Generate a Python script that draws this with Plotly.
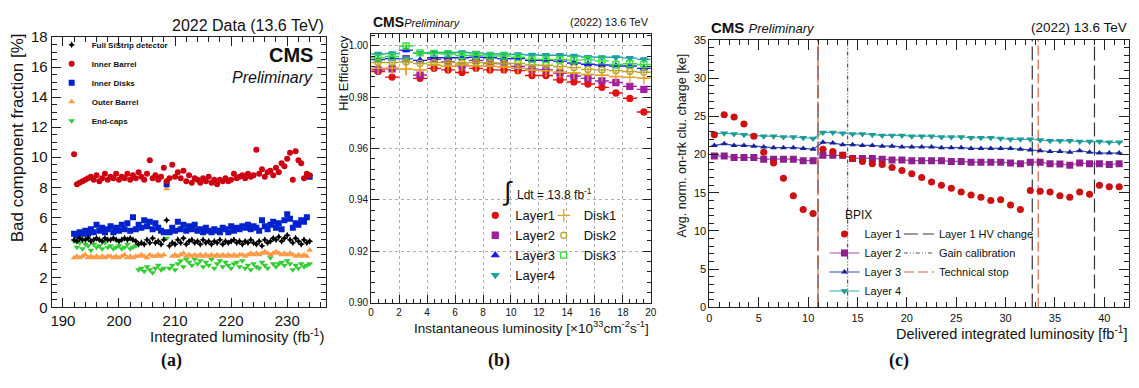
import plotly.graph_objects as go

# ---------------- Panel (a): bad component fraction ----------------
lumi_a = [
    192.0, 192.5, 193.0, 193.5, 194.0, 194.5, 195.0, 195.5, 196.0, 196.5,
    197.0, 197.5, 198.0, 198.5, 199.0, 199.5, 200.0, 200.5, 201.0, 201.5,
    202.0, 202.5, 203.0, 203.5, 204.0, 204.5, 205.0, 205.5, 206.0, 206.5,
    207.0, 207.5, 208.0, 208.5, 209.0, 209.5, 210.0, 210.5, 211.0, 211.5,
    212.0, 212.5, 213.0, 213.5, 214.0, 214.5, 215.0, 215.5, 216.0, 216.5,
    217.0, 217.5, 218.0, 218.5, 219.0, 219.5, 220.0, 220.5, 221.0, 221.5,
    222.0, 222.5, 223.0, 223.5, 224.0, 224.5, 225.0, 225.5, 226.0, 226.5,
    227.0, 227.5, 228.0, 228.5, 229.0, 229.5, 230.0, 230.5, 231.0, 231.5,
    232.0, 232.5, 233.0, 233.5, 234.0,
]
full_sistrip = [
    4.5, 4.4, 4.6, 4.5, 4.5, 4.6, 4.4, 4.5, 4.6, 4.5,
    4.4, 4.6, 4.5, 4.5, 4.6, 4.5, 4.4, 4.5, 4.6, 4.5,
    4.6, 4.5, 4.4, 4.2, 4.3, 4.2, 4.5, 4.3, 4.6, 4.3,
    4.4, 4.2, 4.5, 5.8, 4.1, 4.3, 4.2, 4.5, 4.3, 4.6,
    4.2, 4.4, 4.5, 4.3, 4.4, 4.2, 4.5, 4.3, 4.4, 4.2,
    4.4, 4.3, 4.5, 4.2, 4.4, 4.3, 4.4, 4.5, 4.3, 4.4,
    4.2, 4.4, 4.3, 4.5, 4.3, 4.2, 4.4, 4.1, 4.5, 4.3,
    4.4, 4.6, 4.5, 4.7, 4.4, 4.6, 4.8, 4.5, 4.3, 4.6,
    4.4, 4.2, 4.5, 4.3, 4.4,
]
inner_barrel = [
    10.2, 8.2, 8.3, 8.4, 8.5, 8.6, 8.7, 8.5, 8.8, 8.4,
    8.6, 8.9, 8.5, 8.7, 8.6, 8.9, 8.5, 8.7, 8.6, 8.9,
    8.5, 8.8, 8.6, 9.0, 8.7, 8.5, 8.9, 9.8, 8.6, 8.8,
    8.5, 8.7, 9.3, 8.4, 8.6, 9.5, 8.7, 9.0, 8.6, 9.1,
    8.4, 8.8, 8.3, 8.6, 8.5, 8.3, 8.6, 8.4, 8.7, 8.3,
    8.5, 8.2, 8.5, 8.4, 8.6, 8.4, 8.5, 8.9, 8.6, 8.7,
    8.8, 8.6, 8.9, 8.7, 8.8, 10.5, 8.9, 9.2, 8.7, 9.0,
    9.1, 8.8, 9.3, 9.0, 9.6, 9.4, 9.9, 10.3, 8.5, 10.4,
    9.8, 9.6, 8.6, 8.9, 8.8,
]
inner_disks = [
    4.9, 4.8, 5.0, 4.9, 5.1, 4.9, 5.2, 5.0, 5.5, 5.1,
    5.3, 5.0, 5.2, 5.4, 5.0, 5.3, 5.1, 5.5, 5.2, 5.6,
    5.1, 6.0, 5.2, 5.5, 5.3, 5.8, 5.4, 5.7, 5.2, 5.6,
    5.3, 5.1, 5.0, 8.2, 5.0, 5.3, 5.1, 5.7, 5.2, 5.5,
    5.1, 5.4, 5.2, 5.5, 5.1, 5.2, 5.0, 5.3, 5.1, 5.0,
    5.2, 5.1, 5.0, 5.3, 5.2, 5.0, 5.4, 5.1, 5.3, 5.2,
    5.4, 5.3, 5.5, 5.2, 5.4, 5.3, 5.1, 5.8, 5.4, 5.2,
    5.5, 5.7, 5.3, 5.6, 5.2, 5.8, 6.2, 5.9, 5.3, 5.6,
    5.5, 5.8, 5.7, 6.0, 8.7,
]
outer_barrel = [
    3.3, 3.4, 3.3, 3.4, 3.5, 3.3, 3.4, 3.3, 3.4, 3.3,
    3.4, 3.3, 3.4, 3.4, 3.3, 3.4, 3.3, 3.4, 3.5, 3.3,
    3.4, 3.3, 3.4, 3.4, 3.5, 3.4, 3.3, 3.5, 3.4, 3.4,
    3.5, 3.4, 3.5, 7.9, 5.0, 3.4, 3.5, 3.4, 3.5, 3.6,
    3.4, 3.5, 3.4, 3.5, 3.4, 3.5, 3.4, 3.5, 3.4, 3.5,
    3.4, 3.5, 3.4, 3.5, 3.4, 3.5, 3.4, 3.5, 3.4, 3.5,
    3.5, 3.4, 3.5, 3.6, 3.5, 3.6, 3.5, 3.6, 3.7, 3.6,
    3.5, 3.6, 3.7, 3.6, 3.5, 3.6, 3.5, 3.6, 3.5, 3.4,
    3.5, 3.4, 3.5, 3.4, 3.8,
]
end_caps = [
    4.4, 4.0, 4.3, 3.9, 4.2, 4.1, 3.8, 4.2, 4.0, 4.1,
    3.9, 4.3, 4.0, 4.1, 3.9, 4.0, 4.1, 3.9, 4.0, 4.2,
    3.9, 4.0, 4.1, 2.5, 2.6, 2.4, 2.7, 2.5, 2.3, 2.6,
    2.8, 2.5, 2.6, 4.6, 2.6, 2.8, 2.5, 2.9, 3.1, 2.7,
    3.2, 3.0, 2.8, 3.2, 2.9, 3.1, 2.7, 3.0, 2.8, 3.2,
    2.6, 2.9, 3.1, 2.7, 3.0, 2.8, 2.6, 2.9, 3.0, 2.7,
    3.1, 2.6, 2.8, 2.5, 2.9, 2.7, 2.6, 3.0, 2.8, 2.6,
    3.3, 2.9, 2.7, 2.9, 3.0, 2.8, 3.1, 2.9, 2.5, 2.8,
    2.6, 2.9, 2.7, 2.8, 2.9,
]

# ---------------- Panel (b): hit efficiency ----------------
inst_lumi = [0.5, 1.5, 2.5, 3.5, 4.5, 5.5, 6.5, 7.5, 8.5, 9.5,
             10.5, 11.5, 12.5, 13.5, 14.5, 15.5, 16.5, 17.5, 18.5, 19.5]
eff_layer1 = [0.9900, 0.9878, None, 0.9873, 0.9912, 0.9906, 0.9896, 0.9912, 0.9906, 0.9906,
              0.9903, 0.9884, 0.9884, 0.9867, 0.9859, 0.9851, 0.9838, 0.9816, 0.9795, 0.9742]
eff_layer2 = [0.9906, 0.9910, 0.9950, 0.9886, 0.9947, 0.9937, 0.9922, 0.9943, 0.9931, 0.9931,
              0.9919, 0.9909, 0.9906, 0.9894, 0.9882, 0.9873, 0.9863, 0.9857, 0.9842, 0.9830]
eff_layer3 = [0.9946, 0.9950, 0.9983, 0.9943, 0.9953, 0.9953, 0.9953, 0.9955, 0.9953, 0.9950,
              0.9950, 0.9943, 0.9943, 0.9940, 0.9933, 0.9928, 0.9925, 0.9921, 0.9921, 0.9912]
eff_layer4 = [0.9968, 0.9970, 0.9950, 0.9972, 0.9974, 0.9974, 0.9974, 0.9972, 0.9968, 0.9968,
              0.9966, 0.9964, 0.9963, 0.9963, 0.9960, 0.9956, 0.9955, 0.9955, 0.9952, 0.9947]
eff_disk1 = [0.9912, 0.9913, 0.9909, 0.9906, 0.9925, 0.9920, 0.9925, 0.9922, 0.9920, 0.9917,
             0.9912, 0.9905, 0.9903, 0.9897, 0.9894, 0.9888, 0.9885, 0.9880, 0.9877, 0.9874]
eff_disk2 = [0.9935, 0.9935, 0.9937, 0.9931, 0.9935, 0.9935, 0.9933, 0.9935, 0.9933, 0.9931,
             0.9931, 0.9925, 0.9924, 0.9919, 0.9915, 0.9908, 0.9906, 0.9903, 0.9900, 0.9897]
eff_disk3 = [0.9953, 0.9958, 0.9999, 0.9972, 0.9970, 0.9968, 0.9962, 0.9963, 0.9960, 0.9960,
             0.9955, 0.9947, 0.9947, 0.9946, 0.9944, 0.9945, 0.9941, 0.9927, 0.9930, 0.9927]
eff_err = [0.0003, 0.0003, 0.0008, 0.0004, 0.0002, 0.0002, 0.0002, 0.0002, 0.0002, 0.0002,
           0.0002, 0.0002, 0.0002, 0.0002, 0.0002, 0.0002, 0.0002, 0.0002, 0.0003, 0.0003]
eff_err_disk1 = [0.0003, 0.0003, 0.0022, 0.0015, 0.0003, 0.0003, 0.0002, 0.0002, 0.0002, 0.0002,
                 0.0002, 0.0002, 0.0002, 0.0002, 0.0002, 0.0002, 0.0002, 0.0002, 0.0003, 0.0003]
bin_half_width = 0.5

# ---------------- Panel (c): cluster charge ----------------
deliv_lumi = [0.5, 1.5, 2.5, 3.5, 4.5, 5.5, 6.5, 7.5, 8.5, 9.5,
              10.5, 11.5, 12.5, 13.5, 14.5, 15.5, 16.5, 17.5, 18.5, 19.5,
              20.5, 21.5, 22.5, 23.5, 24.5, 25.5, 26.5, 27.5, 28.5, 29.5,
              30.5, 31.5, 32.5, 33.5, 34.5, 35.5, 36.5, 37.5, 38.5, 39.5,
              40.5, 41.5]
charge_layer1 = [22.6, 25.2, 24.9, 24.0, 22.4, 20.3, 18.9, 16.9, 14.6, 12.8,
                 12.3, 20.7, 20.4, 19.9, 19.5, 19.1, 18.8, 18.7, 18.3, 17.9,
                 17.5, 17.0, 16.4, 16.0, 15.6, 15.1, 14.7, 14.4, 14.0, 14.1,
                 13.4, 12.8, 15.3, 15.2, 15.1, 14.6, 14.4, 15.1, 14.8, 16.0,
                 15.8, 15.8]
charge_layer2 = [19.8, 19.8, 19.6, 19.6, 19.6, 19.4, 19.4, 19.4, 19.4, 19.2,
                 19.2, 19.9, 19.9, 19.9, 19.5, 19.5, 19.5, 19.4, 19.3, 19.3,
                 19.2, 19.2, 19.2, 19.2, 19.1, 19.1, 19.0, 19.0, 19.0, 19.0,
                 18.9, 18.8, 19.0, 19.0, 18.8, 18.75, 18.6, 18.9, 18.8, 18.8,
                 18.7, 18.8]
charge_layer3 = [21.2, 21.4, 21.2, 21.2, 21.1, 21.0, 20.9, 20.9, 20.9, 20.8,
                 20.7, 21.6, 21.5, 21.3, 21.3, 21.2, 21.2, 21.1, 21.1, 21.0,
                 21.0, 21.0, 21.0, 20.9, 20.9, 20.9, 20.8, 20.8, 20.8, 20.8,
                 20.8, 20.7, 20.6, 20.5, 20.4, 20.4, 20.3, 20.5, 20.3, 20.2,
                 20.2, 20.2]
charge_layer4 = [22.7, 22.8, 22.7, 22.6, 22.5, 22.4, 22.4, 22.3, 22.3, 22.2,
                 22.1, 22.9, 22.9, 22.8, 22.7, 22.7, 22.6, 22.5, 22.5, 22.5,
                 22.4, 22.4, 22.4, 22.3, 22.3, 22.3, 22.2, 22.2, 22.2, 22.1,
                 22.0, 22.0, 22.0, 21.9, 21.8, 21.8, 21.8, 21.7, 21.7, 21.7,
                 21.6, 21.6]
charge_xerr = 0.35
hv_change_x = [11.0, 32.7, 39.0]
gain_calib_x = [14.0]
tech_stop_x = [11.0, 33.3]
charge_range = [0, 35]

FONT = "Liberation Sans, Arial, sans-serif"
SERIF = "Liberation Serif, Times New Roman, serif"
OFF = 8                      # page body margin
W, H = 1139 - OFF, 388 - OFF

fig = go.Figure()

# ---- panel (a) traces (drawing order differs from legend order)
a_series = [
    ("End-caps", end_caps, "#33cc33", "triangle-down", 6, 5),
    ("Outer Barrel", outer_barrel, "#ff9944", "triangle-up", 6, 4),
    ("Inner Disks", inner_disks, "#0022cc", "square", 6, 3),
    ("Full SiStrip detector", full_sistrip, "#000000", "star-diamond", 5, 1),
    ("Inner Barrel", inner_barrel, "#cc0011", "circle", 6, 2),
]
for name, vals, col, sym, size, rank in a_series:
    fig.add_trace(go.Scatter(
        x=lumi_a, y=vals, mode="markers", name=name, legendrank=rank,
        marker=dict(color=col, symbol=sym, size=size, line=dict(width=0)),
        xaxis="x", yaxis="y", legend="legend"))

# ---- panel (b) traces
b_series = [
    ("Layer1", eff_layer1, eff_err, "#e31111", "circle", 6, "legend2"),
    ("Layer2", eff_layer2, eff_err, "#a21fa2", "square", 6, "legend2"),
    ("Layer3", eff_layer3, eff_err, "#1a1aee", "triangle-up", 6, "legend2"),
    ("Layer4", eff_layer4, eff_err, "#1aa3a3", "triangle-down", 6, "legend2"),
    ("Disk1", eff_disk1, eff_err_disk1, "#e6a020", "cross-thin-open", 9, "legend3"),
    ("Disk2", eff_disk2, eff_err, "#b5a62a", "circle-open", 6, "legend3"),
    ("Disk3", eff_disk3, eff_err, "#33dd33", "square-open", 6, "legend3"),
]
for name, vals, err, col, sym, size, leg in b_series:
    fig.add_trace(go.Scatter(
        x=inst_lumi, y=vals, mode="markers", name=name,
        marker=dict(color=col, symbol=sym, size=size, line=dict(width=1.3, color=col)),
        error_x=dict(type="constant", value=bin_half_width, color=col, thickness=1.4, width=0),
        error_y=dict(type="data", array=err, color=col, thickness=1.4, width=0),
        xaxis="x2", yaxis="y2", legend=leg))


# ---- panel (c) vertical marker lines
def vlines(xs):
    xx, yy = [], []
    for v in xs:
        xx += [v, v, None]
        yy += [charge_range[0], charge_range[1], None]
    return xx, yy


for name, xs, col, dash in [
    ("Layer 1 HV change", hv_change_x, "#333333", "14px,5px"),
    ("Gain calibration", gain_calib_x, "#555555", "4px,2px,1px,2px,1px,2px"),
    ("Technical stop", tech_stop_x, "#e0603a", "10px,4px"),
]:
    xx, yy = vlines(xs)
    fig.add_trace(go.Scatter(
        x=xx, y=yy, mode="lines", name=name,
        line=dict(color=col, width=1.2, dash=dash),
        xaxis="x3", yaxis="y3", legend="legend5"))

# ---- panel (c) series
fig.add_trace(go.Scatter(
    x=deliv_lumi, y=charge_layer2, mode="lines+markers", name="Layer 2",
    line=dict(color="#a64da6", width=1.2),
    marker=dict(color="#8e1f8e", symbol="square", size=7),
    error_x=dict(type="constant", value=charge_xerr, color="#a64da6", thickness=1, width=0),
    xaxis="x3", yaxis="y3", legend="legend4", legendrank=2))
fig.add_trace(go.Scatter(
    x=deliv_lumi, y=charge_layer3, mode="lines+markers", name="Layer 3",
    line=dict(color="#3a4aa8", width=1.2),
    marker=dict(color="#14229a", symbol="triangle-up", size=6),
    error_x=dict(type="constant", value=charge_xerr, color="#3a4aa8", thickness=1, width=0),
    xaxis="x3", yaxis="y3", legend="legend4", legendrank=3))
fig.add_trace(go.Scatter(
    x=deliv_lumi, y=charge_layer4, mode="lines+markers", name="Layer 4",
    line=dict(color="#3aacac", width=1.2),
    marker=dict(color="#1f9a9a", symbol="triangle-down", size=7),
    error_x=dict(type="constant", value=charge_xerr, color="#3aacac", thickness=1, width=0),
    xaxis="x3", yaxis="y3", legend="legend4", legendrank=4))
fig.add_trace(go.Scatter(
    x=deliv_lumi, y=charge_layer1, mode="markers", name="Layer 1",
    marker=dict(color="#cc1111", symbol="circle", size=7),
    error_x=dict(type="constant", value=charge_xerr, color="#cc2222", thickness=1.2, width=0),
    xaxis="x3", yaxis="y3", legend="legend4", legendrank=1))


def px_x(p):
    return (p - OFF) / W


def px_y(p):
    return 1 - (p - OFF) / H


axis_common = dict(showline=True, linecolor="#222222", linewidth=1, mirror="allticks",
                   ticks="inside", tickcolor="#222222", zeroline=False, showgrid=False)

fig.update_layout(
    width=W, height=H, margin=dict(l=0, r=0, t=0, b=0),
    paper_bgcolor="white", plot_bgcolor="white",
    font=dict(family=FONT, color="#111111"),
    xaxis=dict(domain=[px_x(49), px_x(326)], range=[188, 237], anchor="y",
               tick0=190, dtick=10, ticklen=9,
               minor=dict(dtick=2, ticklen=5, ticks="inside", tickcolor="#222222"),
               tickfont=dict(size=15), **axis_common),
    yaxis=dict(domain=[px_y(312), px_y(29)], range=[0, 18], anchor="x",
               dtick=2, ticklen=9,
               minor=dict(dtick=0.5, ticklen=5, ticks="inside", tickcolor="#222222"),
               tickfont=dict(size=15), **axis_common),
    xaxis2=dict(domain=[px_x(371), px_x(653)], range=[0, 20], anchor="y2",
                dtick=2, ticklen=8,
                minor=dict(dtick=0.5, ticklen=4, ticks="inside", tickcolor="#222222"),
                tickfont=dict(size=10),
                **{**axis_common, "showgrid": True}, gridcolor="#b0b0b0", griddash="dot"),
    yaxis2=dict(domain=[px_y(307), px_y(26)], range=[0.90, 1.0045], anchor="x2",
                tick0=0.90, dtick=0.02, tickformat=".2f", ticklen=8,
                minor=dict(dtick=0.004, ticklen=4, ticks="inside", tickcolor="#222222"),
                tickfont=dict(size=10),
                **{**axis_common, "showgrid": True}, gridcolor="#b0b0b0", griddash="dot"),
    xaxis3=dict(domain=[px_x(712), px_x(1135)], range=[0, 42.5], anchor="y3",
                dtick=5, ticklen=10,
                minor=dict(dtick=1, ticklen=5, ticks="inside", tickcolor="#222222"),
                tickfont=dict(size=11), **axis_common),
    yaxis3=dict(domain=[px_y(312), px_y(32)], range=charge_range, anchor="x3",
                dtick=5, ticklen=10,
                minor=dict(dtick=1, ticklen=5, ticks="inside", tickcolor="#222222"),
                tickfont=dict(size=11), **axis_common),
    legend=dict(x=px_x(49), y=px_y(22), xanchor="left", yanchor="top",
                bgcolor="rgba(0,0,0,0)", font=dict(size=8, family=FONT, weight="bold"),
                traceorder="normal"),
    legend2=dict(x=px_x(476), y=px_y(200), xanchor="left", yanchor="top",
                 bgcolor="rgba(0,0,0,0)", font=dict(size=13)),
    legend3=dict(x=px_x(545), y=px_y(200), xanchor="left", yanchor="top",
                 bgcolor="rgba(0,0,0,0)", font=dict(size=13)),
    legend4=dict(x=px_x(828), y=px_y(220), xanchor="left", yanchor="top",
                 bgcolor="rgba(0,0,0,0)", font=dict(size=11)),
    legend5=dict(x=px_x(903), y=px_y(220), xanchor="left", yanchor="top",
                 bgcolor="rgba(0,0,0,0)", font=dict(size=11)),
)


def ann(x, y, text, size, xanchor="left", yanchor="middle", angle=0, family=FONT, color="#111111"):
    fig.add_annotation(x=px_x(x), y=px_y(y), xref="paper", yref="paper", text=text,
                       showarrow=False, xanchor=xanchor, yanchor=yanchor, textangle=angle,
                       font=dict(size=size, family=family, color=color))


# panel (a) texts
ann(326, 17, "2022 Data (13.6 TeV)", 16, xanchor="right")
ann(314, 48, "<b>CMS</b>", 20, xanchor="right")
ann(314, 71, "<i>Preliminary</i>", 16, xanchor="right")
ann(14, 134, "Bad component fraction [%]", 17, xanchor="center", angle=-90)
ann(326, 341, "Integrated luminosity (fb<sup>-1</sup>)", 15, xanchor="right")
ann(170, 368, "<b>(a)</b>", 18, xanchor="center", family=SERIF)

# panel (b) texts
ann(371, 13, "<b>CMS</b><i><span style='font-size:11px'>Preliminary</span></i>", 14)
ann(653, 13, "(2022) 13.6 TeV", 11, xanchor="right")
ann(343, 67, "Hit Efficiency", 13, xanchor="center", angle=-90)
ann(653, 332, "Instantaneous luminosity [×10<sup>33</sup>cm<sup>-2</sup>s<sup>-1</sup>]", 13.5,
    xanchor="right")
ann(508, 190, "∫", 26, xanchor="center")
ann(516, 193, "Ldt = 13.8 fb<sup>-1</sup>", 12)
ann(500, 368, "<b>(b)</b>", 18, xanchor="center", family=SERIF)

# panel (c) texts
ann(712, 19, "<b>CMS</b> <i><span style='font-size:13px'>Preliminary</span></i>", 15)
ann(1135, 19, "(2022) 13.6 TeV", 13.5, xanchor="right")
ann(684, 143, "Avg. norm. on-trk clu. charge [ke]", 12.5, xanchor="center", angle=-90)
ann(1135, 339, "Delivered integrated luminosity [fb<sup>-1</sup>]", 14.5, xanchor="right")
ann(847, 215, "BPIX", 12)
ann(903, 368, "<b>(c)</b>", 18, xanchor="center", family=SERIF)

fig.write_html("out.html")
